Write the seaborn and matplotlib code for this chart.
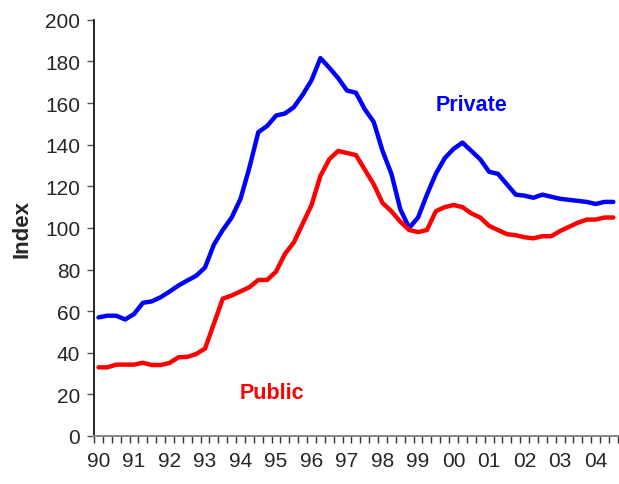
import matplotlib
matplotlib.use("Agg")
import matplotlib.pyplot as plt
import seaborn as sns
import pandas as pd
import numpy as np

# Quarterly index values, 1990 Q1 - 2004 Q3
private = [57, 57.8, 57.8, 56, 58.6, 64, 64.7, 66.7, 69.4, 72.3, 74.7, 77, 81,
           92, 99, 105, 114, 129, 146, 149, 154, 155, 158, 164, 171, 181.6,
           177, 172, 166, 165, 157, 151, 137, 126, 109, 100, 105, 116, 126,
           133.5, 138, 141, 137, 133, 127, 126, 121, 116, 115.5, 114.5, 116,
           115, 114, 113.5, 113, 112.5, 111.5, 112.5, 112.5]
public = [33, 33, 34.3, 34.3, 34.3, 35.2, 34.1, 34.1, 35.1, 37.8, 38, 39.4, 42,
          54, 66, 67.5, 69.5, 71.5, 75, 75, 79, 87.5, 93, 102, 111, 125, 133,
          137, 136, 135, 128, 121, 112, 108, 103, 99, 98, 99, 108, 110, 111,
          110, 107, 105, 101, 99, 97, 96.5, 95.5, 95, 96, 96, 98.5, 100.5,
          102.5, 104, 104, 105, 105]
year_labels = ["90", "91", "92", "93", "94", "95", "96", "97", "98", "99",
               "00", "01", "02", "03", "04"]
series_names = ["Private", "Public"]
series_colors = ["#0000FF", "#FF0000"]

quarter = np.arange(len(private))
df = pd.DataFrame({
    "quarter": np.concatenate([quarter, quarter]),
    "value": private + public,
    "series": ["Private"] * len(private) + ["Public"] * len(public),
})

sns.set_style("white")
plt.rcParams["font.family"] = ["Liberation Sans", "DejaVu Sans"]

fig = plt.figure(figsize=(6.19, 4.85), dpi=100)
ax = fig.add_axes([0.1520, 0.099, 0.846, 0.858])

sns.lineplot(data=df, x="quarter", y="value", hue="series",
             palette=dict(zip(series_names, series_colors)),
             linewidth=3.2, legend=False, ax=ax)

ax.set_xlim(-0.5, len(private) - 0.5)
ax.set_ylim(0, 200)
ax.set_yticks(np.arange(0, 201, 20))
ax.tick_params(axis="y", which="major", direction="out", length=5, width=1,
               color="#555555", labelsize=15, pad=5, left=True)

# Year labels sit on the first quarter; tick marks fall between quarters
ax.set_xticks(np.arange(0, 4 * len(year_labels), 4))
ax.set_xticklabels(year_labels)
ax.set_xticks(np.arange(-0.5, len(private) + 0.5, 1), minor=True)
ax.tick_params(axis="x", which="major", length=0, labelsize=15, pad=11)
ax.tick_params(axis="x", which="minor", direction="out", length=5, width=1,
               color="#333333", bottom=True)

for side in ["top", "right"]:
    ax.spines[side].set_visible(False)
ax.spines["left"].set_color("black")
ax.spines["left"].set_linewidth(1.2)
ax.spines["bottom"].set_color("#888888")
ax.spines["bottom"].set_linewidth(1.5)

ax.set_xlabel("")
ax.set_ylabel("Index", fontsize=16, fontweight="bold", labelpad=9)

ax.text(42.0, 159.5, "Private", color="#0000FF", fontsize=15.5,
        fontweight="bold", ha="center", va="center")
ax.text(19.5, 21, "Public", color="#FF0000", fontsize=15.5,
        fontweight="bold", ha="center", va="center")

fig.savefig("out.png", dpi=100)
